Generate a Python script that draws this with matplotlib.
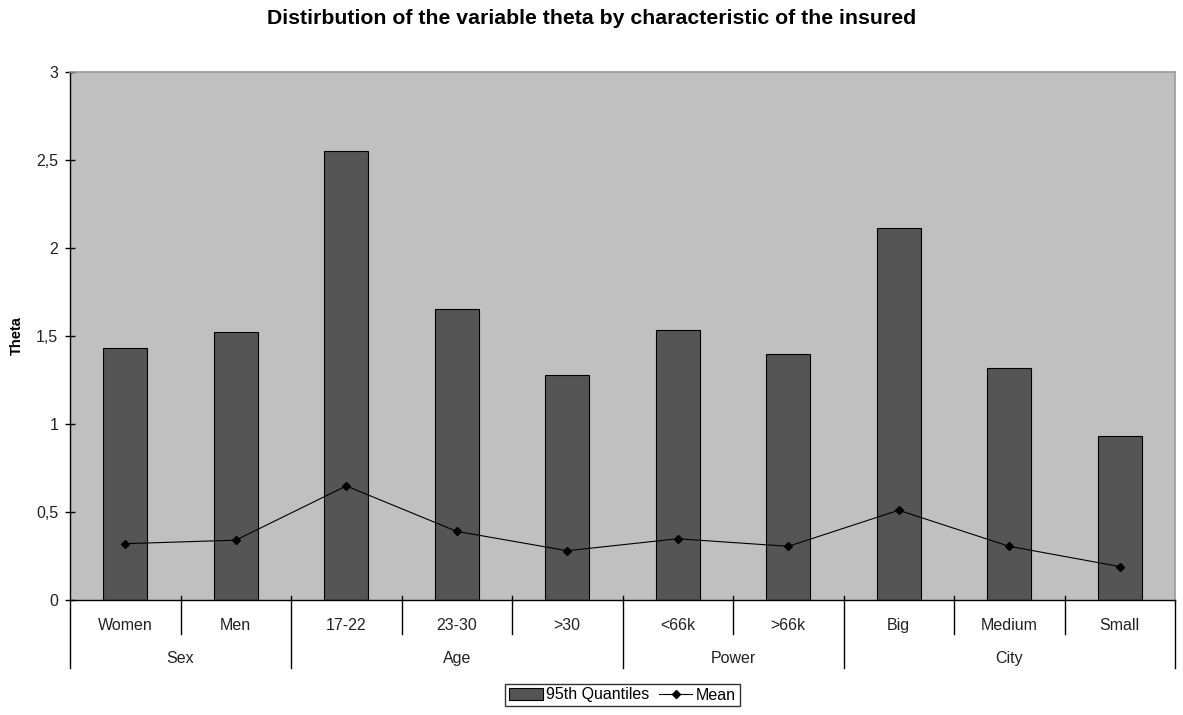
import matplotlib.pyplot as plt
from matplotlib.ticker import FuncFormatter
import matplotlib.transforms as mtransforms

categories = ["Women", "Men", "17-22", "23-30", ">30", "<66k", ">66k", "Big", "Medium", "Small"]
groups = ["Sex", "Age", "Power", "City"]
group_sizes = [2, 3, 2, 3]
quantiles = [1.43, 1.52, 2.55, 1.655, 1.28, 1.535, 1.40, 2.115, 1.32, 0.93]
means = [0.32, 0.34, 0.648, 0.39, 0.28, 0.348, 0.305, 0.51, 0.305, 0.19]

plt.rcParams['font.family'] = ['Liberation Sans', 'DejaVu Sans']
fs = 11.5

fig = plt.figure(figsize=(11.83, 7.15), dpi=100)
W, H = 1183, 715
left, right, top, bottom = 70, 1175, 72, 600
ax = fig.add_axes([left / W, 1 - bottom / H, (right - left) / W, (bottom - top) / H])
ax.set_facecolor("#c0c0c0")

x = [i + 0.5 for i in range(len(categories))]
bars = ax.bar(x, quantiles, width=0.4, color="#555555", edgecolor="black", linewidth=0.8,
              label="95th Quantiles", zorder=2)
line, = ax.plot(x, means, color="black", linewidth=0.8, marker="D", markersize=4,
                label="Mean", zorder=3)

ax.set_xlim(0, len(categories))
ax.set_ylim(0, 3)
ax.set_yticks([0, 0.5, 1, 1.5, 2, 2.5, 3])
ax.yaxis.set_major_formatter(FuncFormatter(lambda v, p: f"{v:g}".replace(".", ",")))
ax.tick_params(axis="y", direction="inout", length=7, width=1, labelsize=fs, pad=5,
               colors="black", labelcolor="#222222")
ax.set_xticks([])

for s in ["top", "right"]:
    ax.spines[s].set_color("#999999")
    ax.spines[s].set_linewidth(1.2)
for s in ["left", "bottom"]:
    ax.spines[s].set_color("black")
    ax.spines[s].set_linewidth(1)

ax.set_ylabel("Theta", fontsize=10.5, fontweight="bold", labelpad=9)
fig.suptitle("Distirbution of the variable theta by characteristic of the insured",
             fontsize=15.3, fontweight="bold", y=1 - 19 / H, va="center")

# hierarchical category axis
trans = mtransforms.blended_transform_factory(ax.transData, ax.transAxes)
ph = bottom - top
inner = -34 / ph
outer = -68 / ph
topt = 4 / ph
for i, c in enumerate(categories):
    ax.text(i + 0.5, -30 / ph, c, transform=trans, ha="center", va="baseline", fontsize=fs,
            color="#222222")

boundaries = [0]
for g in group_sizes:
    boundaries.append(boundaries[-1] + g)
for k in range(1, len(categories)):
    if k in boundaries:
        ax.plot([k, k], [topt, outer], transform=trans, color="black", lw=1, clip_on=False)
    else:
        ax.plot([k, k], [topt, inner], transform=trans, color="black", lw=1, clip_on=False)
for k in [0, len(categories)]:
    ax.plot([k, k], [0, outer], transform=trans, color="black", lw=1, clip_on=False)
for g, a, b in zip(groups, boundaries[:-1], boundaries[1:]):
    ax.text((a + b) / 2, -63 / ph, g, transform=trans, ha="center", va="baseline", fontsize=fs,
            color="#222222")

leg = ax.legend([bars, line], ["95th Quantiles", "Mean"], loc="center",
                bbox_to_anchor=(0.5, -95 / ph), ncol=2, frameon=True,
                fancybox=False, edgecolor="black", fontsize=fs, handlelength=2.1,
                handletextpad=0.2, columnspacing=0.6, borderpad=0.25, borderaxespad=0)
leg.get_frame().set_linewidth(1)

fig.savefig("out.png", dpi=100)
